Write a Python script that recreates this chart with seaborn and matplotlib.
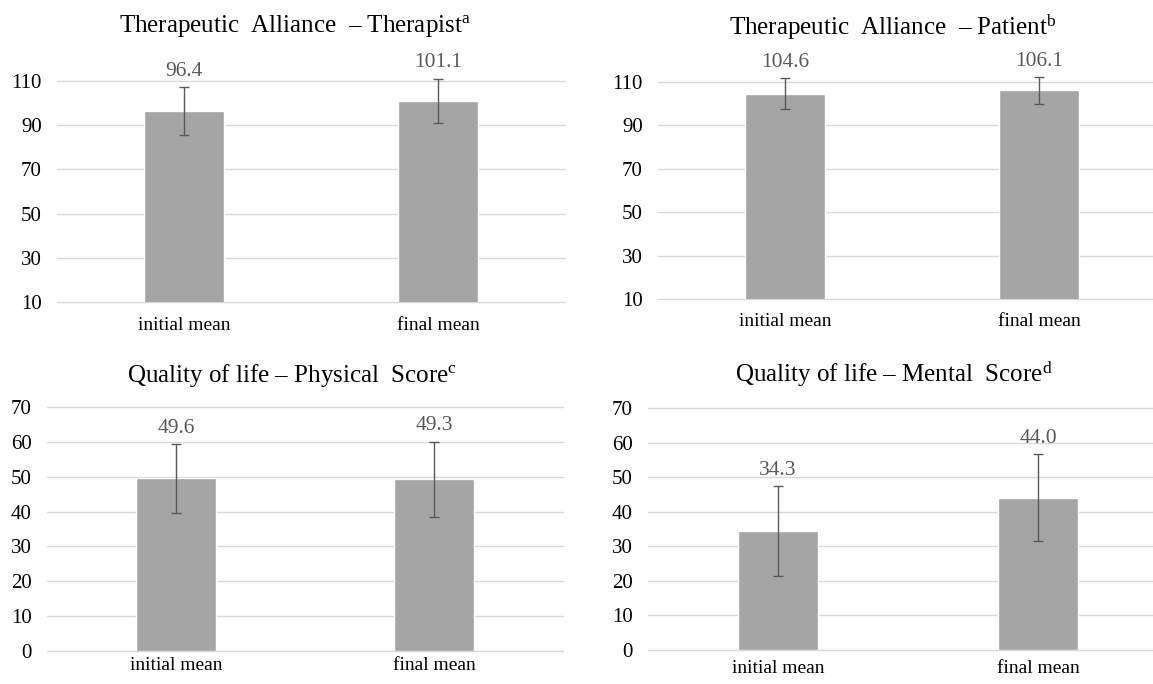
import pandas as pd
import matplotlib
matplotlib.use('Agg')
import matplotlib.pyplot as plt
import seaborn as sns

# --- data ---
categories = ['initial mean', 'final mean']

ta_therapist_mean = [96.4, 101.1]
ta_therapist_sd = [10.7, 10.0]

ta_patient_mean = [104.6, 106.1]
ta_patient_sd = [7.0, 6.3]

qol_physical_mean = [49.6, 49.3]
qol_physical_sd = [9.9, 10.8]

qol_mental_mean = [34.3, 44.0]
qol_mental_sd = [13.0, 12.6]

titles = ['Therapeutic  Alliance  \u2013 Therapist',
          'Therapeutic  Alliance  \u2013 Patient',
          'Quality of life \u2013 Physical  Score',
          'Quality of life \u2013 Mental  Score']
title_marks = ['a', 'b', 'c', 'd']

ta_ticks = [10, 30, 50, 70, 90, 110]
qol_ticks = [0, 10, 20, 30, 40, 50, 60, 70]

sns.set_theme(style='white')
plt.rcParams['font.family'] = ['Liberation Serif', 'DejaVu Serif']
plt.rcParams['mathtext.fontset'] = 'custom'
plt.rcParams['mathtext.rm'] = 'Liberation Serif'
plt.rcParams['mathtext.it'] = 'Liberation Serif'

fig = plt.figure(figsize=(11.53, 6.84), dpi=100)

# axes boxes [left, bottom, width, height] and where each title baseline sits
panels = [
    dict(mean=ta_therapist_mean, sd=ta_therapist_sd, ticks=ta_ticks,
         box=[0.0494, 0.5585, 0.4406, 0.3231], xpad=11, bw=0.315, tx=0.256, ty=0.953),
    dict(mean=ta_patient_mean, sd=ta_patient_sd, ticks=ta_ticks,
         box=[0.5707, 0.5629, 0.4406, 0.3173], xpad=10, bw=0.315, tx=0.774, ty=0.949),
    dict(mean=qol_physical_mean, sd=qol_physical_sd, ticks=qol_ticks,
         box=[0.0408, 0.0482, 0.4475, 0.3567], xpad=4.5, bw=0.31, tx=0.253, ty=0.442),
    dict(mean=qol_mental_mean, sd=qol_mental_sd, ticks=qol_ticks,
         box=[0.5620, 0.0497, 0.4510, 0.3538], xpad=7, bw=0.31, tx=0.775, ty=0.442),
]

for i, p in enumerate(panels):
    ax = fig.add_axes(p['box'])
    df = pd.DataFrame({'group': categories, 'value': p['mean']})
    sns.barplot(data=df, x='group', y='value', color='#A5A5A5', saturation=1,
                width=p['bw'], errorbar=None, ax=ax, zorder=2)
    eb = ax.errorbar(range(len(categories)), p['mean'], yerr=p['sd'], fmt='none',
                     ecolor='#595959', elinewidth=1, capsize=3.5, capthick=1, zorder=3)
    for art in eb.lines[1] + eb.lines[2]:
        art.set_clip_on(False)
    for x, m, s in zip(range(len(categories)), p['mean'], p['sd']):
        ax.annotate(f'{m:.1f}', (x, m + s), xytext=(0, 8), textcoords='offset points',
                    ha='center', va='baseline', fontsize=15.5, color='#595959',
                    annotation_clip=False)

    ax.set_ylim(p['ticks'][0], p['ticks'][-1])
    ax.set_yticks(p['ticks'])
    ax.set_xlim(-0.5, 1.5)
    ax.yaxis.grid(True, color='#D9D9D9', linewidth=1)
    ax.set_axisbelow(True)
    for sp in ax.spines.values():
        sp.set_visible(False)
    ax.set_xlabel('')
    ax.set_ylabel('')
    ax.tick_params(axis='y', length=0, pad=11, labelsize=15, labelcolor='black')
    ax.tick_params(axis='x', length=0, pad=p['xpad'], labelsize=14, labelcolor='black')
    for gl in ax.get_ygridlines():
        gl.set_clip_on(False)

    fig.text(p['tx'], p['ty'], titles[i] + '$^{\\mathrm{' + title_marks[i] + '}}$',
             ha='center', va='baseline', fontsize=18, color='black')

fig.savefig('out.png', dpi=100)
